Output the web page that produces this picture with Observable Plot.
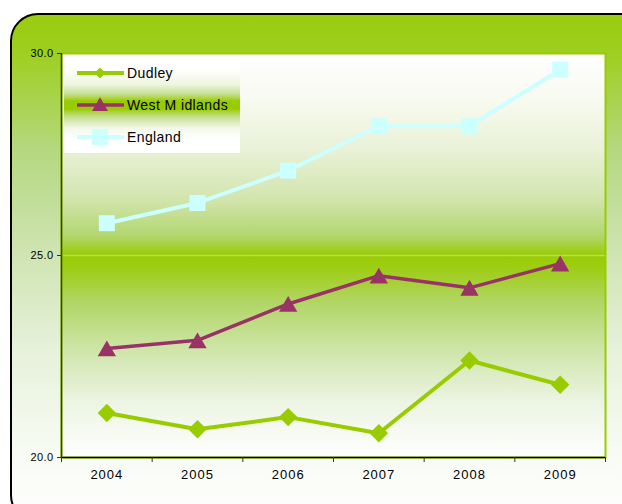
<!DOCTYPE html>
<html>
<head>
<meta charset="utf-8">
<script src="https://cdn.jsdelivr.net/npm/d3@7"></script>
<script src="https://cdn.jsdelivr.net/npm/@observablehq/plot@0.6"></script>
<style>
  body { margin: 0; background: #ffffff; }
  #wrap { position: relative; width: 622px; height: 504px; overflow: hidden;
          font-family: "Liberation Sans", Arial, sans-serif; }
  #box { position: absolute; left: 10px; top: 13px; width: 640px; height: 510px;
         box-sizing: border-box; border: 2px solid #000; border-radius: 28px;
         background: linear-gradient(to bottom, #99cc11 0%, #9ecf22 8%, #b5d880 27%, #cfe4b2 47%, #e6f1da 66%, #f7fbf3 86%, #ffffff 100%); }
  #chart { position: absolute; left: 0; top: 0; }
  #chart svg { background: none !important; overflow: visible; }
  #chart g[aria-label="x-axis tick label"] text { letter-spacing: 1px; }
  #chart g[aria-label="y-axis tick label"] text { letter-spacing: 0.4px; }
</style>
</head>
<body>
<div id="wrap"><div id="box"></div><div id="chart"></div></div>
<script>
// ---- data ----
const years = [2004, 2005, 2006, 2007, 2008, 2009];
const dudley = [21.1, 20.7, 21.0, 20.6, 22.4, 21.8];
const westMidlands = [22.7, 22.9, 23.8, 24.5, 24.2, 24.8];
const england = [25.8, 26.3, 27.1, 28.2, 28.2, 29.6];
const seriesNames = ["Dudley", "West M idlands", "England"];
const yTicks = [20, 25, 30];

const rows = years.map((yr, i) => ({year: yr, dudley: dudley[i], wm: westMidlands[i], england: england[i]}));
const xDomain = [years[0] - 0.5, years[years.length - 1] + 0.5];
const boundaries = d3.range(years.length + 1).map(i => xDomain[0] + i);

const cDud = "#99cc00", cWM = "#993366", cEng = "#ccffff";

const chart = Plot.plot({
  width: 622,
  height: 504,
  marginLeft: 61,
  marginRight: 17,
  marginTop: 53,
  marginBottom: 47,
  style: {fontFamily: "'Liberation Sans', Arial, sans-serif", background: "none", color: "#000"},
  x: {domain: xDomain, axis: null},
  y: {domain: [20, 30], axis: null},
  marks: [
    Plot.frame({fill: "url(#plotGrad)", stroke: "none"}),
    Plot.ruleY([25], {stroke: "#b9d96c", strokeWidth: 1.5}),
    Plot.frame({stroke: "#99cc00", strokeWidth: 2, fill: "none"}),
    Plot.ruleX([xDomain[0]], {stroke: "#333d14", strokeWidth: 1.5}),
    Plot.ruleY([20], {stroke: "#000", strokeWidth: 1.5}),
    Plot.axisY({ticks: yTicks, tickFormat: d3.format(".1f"), tickSize: 4, tickPadding: 4, fontSize: 11, label: null, stroke: "#333"}),
    Plot.axisX({ticks: boundaries, tickFormat: () => "", tickSize: 5, label: null, stroke: "#333"}),
    Plot.axisX({ticks: years, tickFormat: d => String(d), tickSize: 0, tickPadding: 12, fontSize: 13, label: null}),
    Plot.line(rows, {x: "year", y: "england", stroke: cEng, strokeWidth: 4}),
    Plot.line(rows, {x: "year", y: "wm", stroke: cWM, strokeWidth: 3.5}),
    Plot.line(rows, {x: "year", y: "dudley", stroke: cDud, strokeWidth: 4}),
    Plot.dot(rows, {x: "year", y: "england", symbol: d3.symbolSquare, r: Math.sqrt(256 / Math.PI), fill: cEng, stroke: "none"}),
    Plot.dot(rows, {x: "year", y: "wm", symbol: d3.symbolTriangle, r: Math.sqrt(145 / Math.PI), fill: cWM, stroke: "none", dy: 2.6}),
    Plot.dot(rows, {x: "year", y: "dudley", symbol: d3.symbolDiamond2, r: Math.sqrt(216 / Math.PI), fill: cDud, stroke: "none"})
  ]
});

const svg = d3.select(chart);
const defs = svg.insert("defs", ":first-child");
const pg = defs.append("linearGradient").attr("id", "plotGrad").attr("x1", 0).attr("y1", 0).attr("x2", 0).attr("y2", 1);
[[0, "#ffffff"], [0.12, "#f7faef"], [0.24, "#e9f1d6"], [0.36, "#d2e5ae"], [0.45, "#b3d670"], [0.5, "#99cc00"],
 [0.54, "#a0ce1c"], [0.62, "#b2d668"], [0.74, "#d0e6ac"], [0.86, "#ecf4e2"], [1, "#ffffff"]]
  .forEach(([o, c]) => pg.append("stop").attr("offset", o).attr("stop-color", c));
const lg = defs.append("linearGradient").attr("id", "legGrad").attr("x1", 0).attr("y1", 0).attr("x2", 0).attr("y2", 1);
[[0, "#ffffff"], [0.15, "#ffffff"], [0.3, "#eef5e0"], [0.4, "#c5df90"], [0.47, "#99cc00"], [0.55, "#99cc00"],
 [0.63, "#c5df90"], [0.75, "#f3f8ea"], [0.85, "#ffffff"], [1, "#ffffff"]]
  .forEach(([o, c]) => lg.append("stop").attr("offset", o).attr("stop-color", c));

// legend
const leg = svg.append("g").attr("class", "legend").attr("text-anchor", "start");
leg.append("rect").attr("x", 64).attr("y", 55).attr("width", 176).attr("height", 98).attr("fill", "url(#legGrad)");
const legItems = [
  {name: seriesNames[0], color: cDud, sw: 4, sym: d3.symbolDiamond2, size: 80, y: 73},
  {name: seriesNames[1], color: cWM, sw: 3.5, sym: d3.symbolTriangle, size: 111, y: 105},
  {name: seriesNames[2], color: cEng, sw: 4, sym: d3.symbolSquare, size: 256, y: 137}
];
legItems.forEach(it => {
  leg.append("line").attr("x1", 77).attr("x2", 124).attr("y1", it.y).attr("y2", it.y)
    .attr("stroke", it.color).attr("stroke-width", it.sw);
  leg.append("path").attr("d", d3.symbol(it.sym, it.size)())
    .attr("transform", `translate(100,${it.y + (it.sym === d3.symbolTriangle ? 1.5 : 0)})`).attr("fill", it.color);
  leg.append("text").attr("x", 127).attr("y", it.y).attr("dy", "0.35em").attr("text-anchor", "start")
    .attr("font-size", 14).attr("letter-spacing", "0.4px").attr("fill", "#000").text(it.name);
});

document.getElementById("chart").appendChild(chart);
</script>
</body>
</html>
